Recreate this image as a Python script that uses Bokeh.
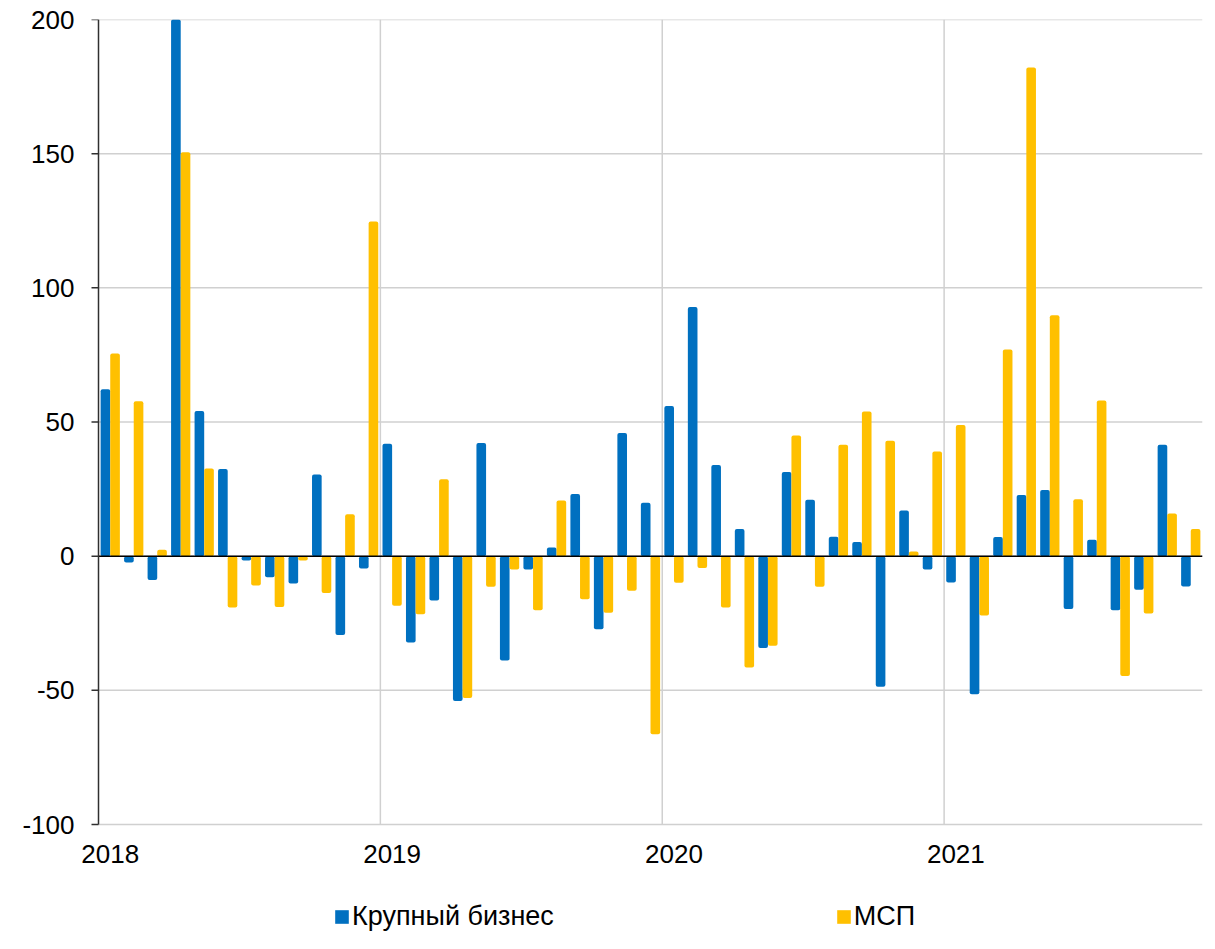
from bokeh.plotting import figure
from bokeh.models import ColumnDataSource, FixedTicker, Legend, LegendItem, Range1d
from bokeh.transform import dodge
from bokeh.embed import file_html
from bokeh.resources import INLINE

# ---- data (monthly, Jan 2018 .. Nov 2021) ----
years = ["2018", "2019", "2020", "2021"]
months = [f"{y}-{m:02d}" for y in years for m in range(1, 13)][:47]

large = [62.2, -2.4, -8.9, 215.0, 54.1, 32.5, -1.6, -7.9, -10.2, 30.4, -29.4, -4.6,
         41.9, -32.2, -16.5, -54.0, 42.2, -38.9, -5.0, 3.2, 23.2, -27.2, 45.9, 19.9,
         56.0, 92.9, 34.0, 10.1, -34.2, 31.4, 21.0, 7.2, 5.3, -48.7, 17.0, -5.0,
         -9.8, -51.5, 7.1, 22.8, 24.7, -19.7, 6.1, -20.2, -12.5, 41.5, -11.3]

sme = [75.5, 57.7, 2.4, 150.5, 32.7, -19.1, -10.9, -18.9, -1.6, -13.7, 15.6, 124.7,
       -18.5, -21.6, 28.7, -52.9, -11.4, -5.0, -20.2, 20.7, -16.1, -21.1, -12.9, -66.4,
       -9.9, -4.4, -19.1, -41.5, -33.4, 45.0, -11.4, 41.5, 53.9, 43.0, 1.7, 39.0,
       48.9, -22.1, 77.0, 182.1, 89.8, 21.2, 58.0, -44.7, -21.4, 15.9, 10.1]

series_names = ["Крупный бизнес", "МСП"]
y_ticks = [-100, -50, 0, 50, 100, 150, 200]
y_labels = ["-100", "-50", "0", "50", "100", "150", "200"]
year_starts = [0, 12, 24, 36]

FONT = "Liberation Sans"
BLUE = "#0070C0"
YELLOW = "#FFC000"
GRID = "#d0d0d0"
AXIS = "#303030"

# ---- layout (pixels) ----
W, H = 1207, 933
FRAME_LEFT = 70          # frame starts left of the value axis so the first year label fits
AXIS_X = 98              # pixel position of the value axis
RIGHT, TOP = 5, 19
DATA_PX = 805            # pixel height of the -100..200 value band
TICK_PX = 7

n = len(months)
x_lo, x_hi = -0.5, n - 0.5
px_per_month = (W - RIGHT - AXIS_X) / n
x_start = x_lo - (AXIS_X - FRAME_LEFT) / px_per_month
tick_len = TICK_PX / px_per_month

y_lo, y_hi = y_ticks[0], y_ticks[-1]
px_per_unit = DATA_PX / (y_hi - y_lo)
y_bottom = y_hi - (H - TOP) / px_per_unit

src = ColumnDataSource(dict(x=list(range(n)), month=months, large=large, sme=sme))

p = figure(width=W, height=H, output_backend="svg", toolbar_location=None,
           x_range=Range1d(x_start, x_hi), y_range=Range1d(y_bottom, y_hi),
           min_border_left=FRAME_LEFT, min_border_right=RIGHT, min_border_top=TOP,
           min_border_bottom=0)
p.outline_line_color = None
p.background_fill_color = "white"
p.xgrid.visible = False
p.ygrid.visible = False

# grid lines limited to the value band
bounds = [s - 0.5 for s in year_starts[1:]]
p.segment(x0=bounds, y0=[y_lo] * len(bounds), x1=bounds, y1=[y_hi] * len(bounds),
          line_color=GRID, line_width=1.5, level="underlay")
p.segment(x0=[x_lo] * len(y_ticks), y0=y_ticks, x1=[x_hi] * len(y_ticks), y1=y_ticks,
          line_color=GRID, line_width=1.5, level="underlay")

r1 = p.vbar(x=dodge("x", -0.205), top="large", bottom=0, width=0.41, source=src,
            fill_color=BLUE, line_color=None, border_radius=2)
r2 = p.vbar(x=dodge("x", 0.205), top="sme", bottom=0, width=0.41, source=src,
            fill_color=YELLOW, line_color=None, border_radius=2)

# zero line
p.segment(x0=[x_lo], y0=[0], x1=[x_hi], y1=[0], line_color="black", line_width=1.5)

# value axis line and outward ticks
p.segment(x0=[x_lo], y0=[y_lo], x1=[x_lo], y1=[y_hi], line_color=AXIS, line_width=1.5)
p.segment(x0=[x_lo] * len(y_ticks), y0=y_ticks, x1=[x_lo - tick_len] * len(y_ticks), y1=y_ticks,
          line_color=AXIS, line_width=1.5)

# y tick labels (axis line/ticks drawn above)
p.yaxis.ticker = FixedTicker(ticks=y_ticks)
p.yaxis.major_label_overrides = {t: s for t, s in zip(y_ticks, y_labels)}
p.yaxis.axis_line_color = None
p.yaxis.major_tick_line_color = None
p.yaxis.minor_tick_line_color = None
p.yaxis.major_tick_out = 0
p.yaxis.major_tick_in = 0
p.yaxis.major_label_standoff = FRAME_LEFT - AXIS_X + TICK_PX + 17
p.yaxis.major_label_text_font = FONT
p.yaxis.major_label_text_font_size = "26px"
p.yaxis.major_label_text_color = "black"

# x axis pinned to the bottom of the value band; year labels centred on January
p.xaxis.fixed_location = y_lo
p.xaxis.ticker = FixedTicker(ticks=year_starts)
p.xaxis.major_label_overrides = {t: y for t, y in zip(year_starts, years)}
p.xaxis.axis_line_color = None
p.xaxis.major_tick_line_color = None
p.xaxis.minor_tick_line_color = None
p.xaxis.major_tick_out = 0
p.xaxis.major_tick_in = 0
p.xaxis.major_label_standoff = 20
p.xaxis.major_label_text_font = FONT
p.xaxis.major_label_text_font_size = "26px"
p.xaxis.major_label_text_color = "black"

legend = Legend(items=[LegendItem(label=series_names[0], renderers=[r1]),
                       LegendItem(label=series_names[1], renderers=[r2])],
                orientation="horizontal", location=(333 - FRAME_LEFT, 1), spacing=281,
                glyph_width=17, glyph_height=17, label_standoff=2,
                padding=0, margin=0, border_line_color=None, background_fill_alpha=0,
                label_text_font=FONT, label_text_font_size="27px", label_text_color="black")
p.add_layout(legend, "center")

open("out.html", "w").write(file_html(p, INLINE))
